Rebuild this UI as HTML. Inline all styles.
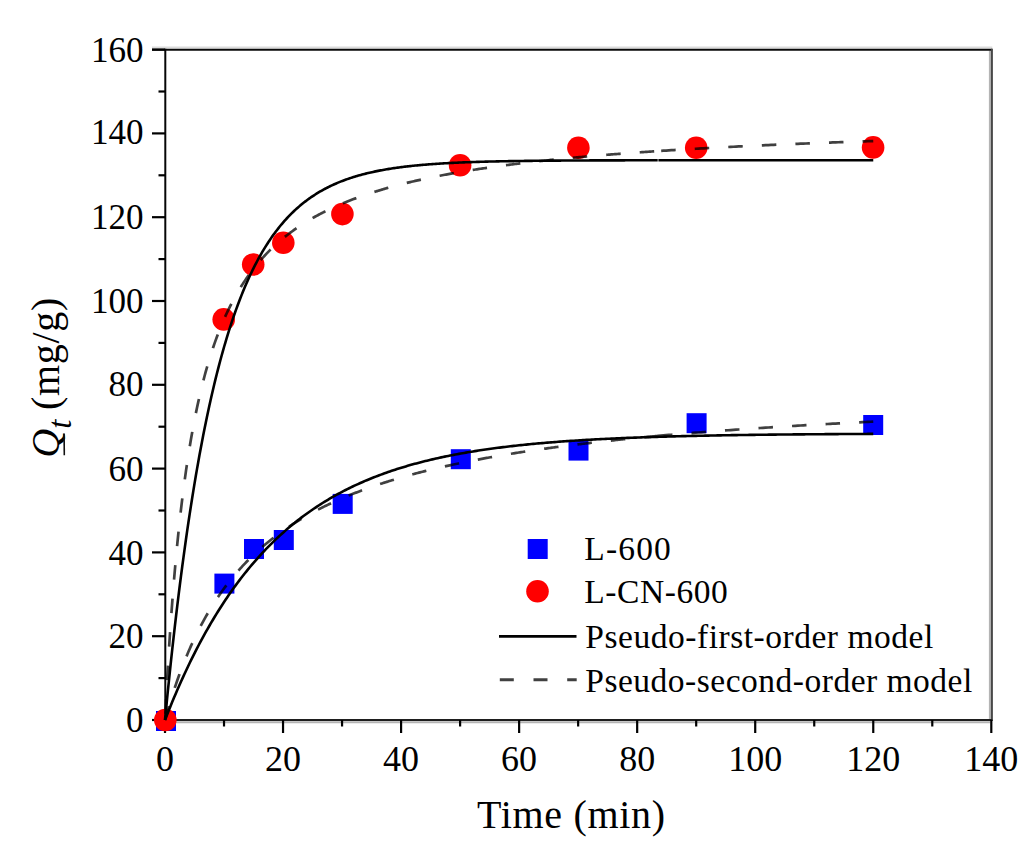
<!DOCTYPE html>
<html><head><meta charset="utf-8"><style>
html,body{margin:0;padding:0;background:#fff;width:1030px;height:849px;overflow:hidden;}
svg{display:block;font-family:"Liberation Serif",serif;}
</style></head><body>
<svg width="1030" height="849" viewBox="0 0 1030 849">
<rect width="1030" height="849" fill="#fff"/>
<g stroke="#000" stroke-width="2.2" fill="none">
<line x1="152.0" y1="47.6" x2="992.3" y2="47.6" stroke="#dcdcdc" stroke-width="2"/>
<line x1="989.9" y1="50.6" x2="989.9" y2="719.0" stroke="#b4b4b4" stroke-width="2"/>
<line x1="166.0" y1="722.2" x2="990.3" y2="722.2" stroke="#b4b4b4" stroke-width="2"/>
<line x1="152.0" y1="49.8" x2="992.3" y2="49.8" stroke="#080808" stroke-width="2"/>
<line x1="165.3" y1="48.8" x2="165.3" y2="721" stroke="#060606" stroke-width="2"/>
<line x1="991.9" y1="48.8" x2="991.9" y2="721" stroke="#484848" stroke-width="2"/>
<line x1="152.0" y1="719.9" x2="992.3" y2="719.9" stroke="#1e1e1e" stroke-width="2"/>
<line x1="152.0" y1="720.00" x2="165.0" y2="720.00"/>
<line x1="158.5" y1="678.10" x2="165.0" y2="678.10"/>
<line x1="152.0" y1="636.20" x2="165.0" y2="636.20"/>
<line x1="158.5" y1="594.30" x2="165.0" y2="594.30"/>
<line x1="152.0" y1="552.40" x2="165.0" y2="552.40"/>
<line x1="158.5" y1="510.50" x2="165.0" y2="510.50"/>
<line x1="152.0" y1="468.60" x2="165.0" y2="468.60"/>
<line x1="158.5" y1="426.70" x2="165.0" y2="426.70"/>
<line x1="152.0" y1="384.80" x2="165.0" y2="384.80"/>
<line x1="158.5" y1="342.90" x2="165.0" y2="342.90"/>
<line x1="152.0" y1="301.00" x2="165.0" y2="301.00"/>
<line x1="158.5" y1="259.10" x2="165.0" y2="259.10"/>
<line x1="152.0" y1="217.20" x2="165.0" y2="217.20"/>
<line x1="158.5" y1="175.30" x2="165.0" y2="175.30"/>
<line x1="152.0" y1="133.40" x2="165.0" y2="133.40"/>
<line x1="158.5" y1="91.50" x2="165.0" y2="91.50"/>
<line x1="152.0" y1="49.60" x2="165.0" y2="49.60"/>
<line x1="165.00" y1="720.0" x2="165.00" y2="733.0"/>
<line x1="224.02" y1="720.0" x2="224.02" y2="726.5"/>
<line x1="283.04" y1="720.0" x2="283.04" y2="733.0"/>
<line x1="342.06" y1="720.0" x2="342.06" y2="726.5"/>
<line x1="401.09" y1="720.0" x2="401.09" y2="733.0"/>
<line x1="460.11" y1="720.0" x2="460.11" y2="726.5"/>
<line x1="519.13" y1="720.0" x2="519.13" y2="733.0"/>
<line x1="578.15" y1="720.0" x2="578.15" y2="726.5"/>
<line x1="637.17" y1="720.0" x2="637.17" y2="733.0"/>
<line x1="696.19" y1="720.0" x2="696.19" y2="726.5"/>
<line x1="755.21" y1="720.0" x2="755.21" y2="733.0"/>
<line x1="814.24" y1="720.0" x2="814.24" y2="726.5"/>
<line x1="873.26" y1="720.0" x2="873.26" y2="733.0"/>
<line x1="932.28" y1="720.0" x2="932.28" y2="726.5"/>
<line x1="991.30" y1="720.0" x2="991.30" y2="733.0"/>
</g>
<rect x="156.0" y="711.0" width="20" height="20" fill="#0000ff"/>
<rect x="214.4" y="573.6" width="20" height="20" fill="#0000ff"/>
<rect x="244.0" y="539.0" width="20" height="20" fill="#0000ff"/>
<rect x="273.8" y="530.0" width="20" height="20" fill="#0000ff"/>
<rect x="332.7" y="493.9" width="20" height="20" fill="#0000ff"/>
<rect x="450.8" y="449.2" width="20" height="20" fill="#0000ff"/>
<rect x="568.5" y="440.6" width="20" height="20" fill="#0000ff"/>
<rect x="686.6" y="413.2" width="20" height="20" fill="#0000ff"/>
<rect x="863.2" y="415.0" width="20" height="20" fill="#0000ff"/>
<circle cx="165.3" cy="720.0" r="11.3" fill="#ff0000"/>
<circle cx="223.7" cy="319.4" r="11.3" fill="#ff0000"/>
<circle cx="253.2" cy="264.5" r="11.3" fill="#ff0000"/>
<circle cx="283.3" cy="242.7" r="11.3" fill="#ff0000"/>
<circle cx="342.4" cy="214.1" r="11.3" fill="#ff0000"/>
<circle cx="460.1" cy="165.2" r="11.3" fill="#ff0000"/>
<circle cx="578.4" cy="147.7" r="11.3" fill="#ff0000"/>
<circle cx="696.2" cy="147.7" r="11.3" fill="#ff0000"/>
<circle cx="873.1" cy="147.4" r="11.3" fill="#ff0000"/>
<g fill="none" stroke-linejoin="round">
<path d="M165.00,720.00 L166.23,707.33 L167.46,694.95 L168.70,682.84 L169.93,671.01 L171.16,659.45 L172.39,648.15 L173.62,637.11 L174.85,626.32 L176.09,615.77 L177.32,605.46 L178.55,595.38 L179.78,585.53 L181.01,575.90 L182.24,566.49 L183.48,557.30 L184.71,548.31 L185.94,539.53 L187.17,530.94 L188.40,522.55 L189.63,514.35 L190.87,506.33 L192.10,498.50 L193.33,490.84 L194.56,483.36 L195.79,476.05 L197.03,468.90 L198.26,461.91 L199.49,455.08 L200.72,448.41 L201.95,441.89 L203.18,435.51 L204.42,429.28 L205.65,423.19 L206.88,417.24 L208.11,411.42 L209.34,405.73 L210.57,400.18 L211.81,394.75 L213.04,389.44 L214.27,384.25 L215.50,379.18 L216.73,374.22 L217.97,369.38 L219.20,364.64 L220.43,360.02 L221.66,355.50 L222.89,351.08 L224.12,346.76 L225.36,342.53 L226.59,338.41 L227.82,334.37 L229.05,330.43 L230.28,326.58 L231.51,322.81 L232.75,319.13 L233.98,315.54 L235.21,312.02 L236.44,308.59 L237.67,305.23 L238.91,301.95 L240.14,298.74 L241.37,295.60 L242.60,292.54 L243.83,289.54 L245.06,286.62 L246.30,283.75 L247.53,280.96 L248.76,278.23 L249.99,275.55 L251.22,272.94 L252.45,270.39 L253.69,267.90 L254.92,265.46 L256.15,263.08 L257.38,260.75 L258.61,258.48 L259.84,256.25 L261.08,254.08 L262.31,251.95 L263.54,249.88 L264.77,247.85 L266.00,245.86 L267.24,243.93 L268.47,242.03 L269.70,240.18 L270.93,238.37 L272.16,236.60 L273.39,234.87 L274.63,233.18 L275.86,231.53 L277.09,229.92 L278.32,228.34 L279.55,226.80 L280.78,225.29 L282.02,223.82 L283.25,222.38 L284.48,220.97 L285.71,219.60 L286.94,218.25 L288.18,216.94 L289.41,215.65 L290.64,214.40 L291.87,213.17 L293.10,211.97 L294.33,210.80 L295.57,209.66 L296.80,208.54 L298.03,207.45 L299.26,206.38 L300.49,205.33 L301.72,204.31 L302.96,203.31 L304.19,202.34 L305.42,201.38 L306.65,200.45 L307.88,199.54 L309.11,198.65 L310.35,197.78 L311.58,196.93 L312.81,196.10 L314.04,195.29 L315.27,194.49 L316.51,193.72 L317.74,192.96 L318.97,192.22 L320.20,191.49 L321.43,190.79 L322.66,190.09 L323.90,189.42 L325.13,188.76 L326.36,188.11 L327.59,187.48 L328.82,186.86 L330.05,186.26 L331.29,185.67 L332.52,185.09 L333.75,184.53 L334.98,183.98 L336.21,183.44 L337.44,182.92 L338.68,182.40 L339.91,181.90 L341.14,181.41 L342.37,180.93 L343.60,180.46 L344.84,180.00 L346.07,179.56 L347.30,179.12 L348.53,178.69 L349.76,178.27 L350.99,177.86 L352.23,177.46 L353.46,177.07 L354.69,176.69 L355.92,176.32 L357.15,175.95 L358.38,175.60 L359.62,175.25 L360.85,174.91 L362.08,174.58 L363.31,174.25 L364.54,173.93 L365.78,173.62 L367.01,173.32 L368.24,173.02 L369.47,172.73 L370.70,172.45 L371.93,172.17 L373.17,171.90 L374.40,171.64 L375.63,171.38 L376.86,171.13 L378.09,170.88 L379.32,170.64 L380.56,170.40 L381.79,170.17 L383.02,169.95 L384.25,169.73 L385.48,169.51 L386.72,169.30 L387.95,169.10 L389.18,168.89 L390.41,168.70 L391.64,168.51 L392.87,168.32 L394.11,168.14 L395.34,167.96 L396.57,167.78 L397.80,167.61 L399.03,167.44 L400.26,167.28 L401.50,167.12 L402.73,166.96 L403.96,166.81 L405.19,166.66 L406.42,166.51 L407.65,166.37 L408.89,166.23 L410.12,166.10 L411.35,165.96 L412.58,165.83 L413.81,165.71 L415.05,165.58 L416.28,165.46 L417.51,165.34 L418.74,165.23 L419.97,165.11 L421.20,165.00 L422.44,164.89 L423.67,164.79 L424.90,164.68 L426.13,164.58 L427.36,164.48 L428.59,164.39 L429.83,164.29 L431.06,164.20 L432.29,164.11 L433.52,164.02 L434.75,163.94 L435.99,163.85 L437.22,163.77 L438.45,163.69 L439.68,163.61 L440.91,163.53 L442.14,163.46 L443.38,163.39 L444.61,163.31 L445.84,163.24 L447.07,163.18 L448.30,163.11 L449.53,163.04 L450.77,162.98 L452.00,162.92 L453.23,162.85 L454.46,162.80 L455.69,162.74 L456.92,162.68 L458.16,162.62 L459.39,162.57 L460.62,162.52 L461.85,162.46 L463.08,162.41 L464.32,162.36 L465.55,162.31 L466.78,162.27 L468.01,162.22 L469.24,162.18 L470.47,162.13 L471.71,162.09 L472.94,162.05 L474.17,162.00 L475.40,161.96 L476.63,161.92 L477.86,161.89 L479.10,161.85 L480.33,161.81 L481.56,161.77 L482.79,161.74 L484.02,161.70 L485.25,161.67 L486.49,161.64 L487.72,161.61 L488.95,161.57 L490.18,161.54 L491.41,161.51 L492.65,161.48 L493.88,161.46 L495.11,161.43 L496.34,161.40 L497.57,161.37 L498.80,161.35 L500.04,161.32 L501.27,161.30 L502.50,161.27 L503.73,161.25 L504.96,161.22 L506.19,161.20 L507.43,161.18 L508.66,161.16 L509.89,161.14 L511.12,161.12 L512.35,161.10 L513.59,161.08 L514.82,161.06 L516.05,161.04 L517.28,161.02 L518.51,161.00 L519.74,160.98 L520.98,160.97 L522.21,160.95 L523.44,160.93 L524.67,160.92 L525.90,160.90 L527.13,160.88 L528.37,160.87 L529.60,160.85 L530.83,160.84 L532.06,160.83 L533.29,160.81 L534.53,160.80 L535.76,160.79 L536.99,160.77 L538.22,160.76 L539.45,160.75 L540.68,160.74 L541.92,160.72 L543.15,160.71 L544.38,160.70 L545.61,160.69 L546.84,160.68 L548.07,160.67 L549.31,160.66 L550.54,160.65 L551.77,160.64 L553.00,160.63 L554.23,160.62 L555.46,160.61 L556.70,160.60 L557.93,160.59 L559.16,160.58 L560.39,160.58 L561.62,160.57 L562.86,160.56 L564.09,160.55 L565.32,160.54 L566.55,160.54 L567.78,160.53 L569.01,160.52 L570.25,160.52 L571.48,160.51 L572.71,160.50 L573.94,160.50 L575.17,160.49 L576.40,160.48 L577.64,160.48 L578.87,160.47 L580.10,160.47 L581.33,160.46 L582.56,160.45 L583.80,160.45 L585.03,160.44 L586.26,160.44 L587.49,160.43 L588.72,160.43 L589.95,160.42 L591.19,160.42 L592.42,160.41 L593.65,160.41 L594.88,160.41 L596.11,160.40 L597.34,160.40 L598.58,160.39 L599.81,160.39 L601.04,160.39 L602.27,160.38 L603.50,160.38 L604.73,160.37 L605.97,160.37 L607.20,160.37 L608.43,160.36 L609.66,160.36 L610.89,160.36 L612.13,160.35 L613.36,160.35 L614.59,160.35 L615.82,160.34 L617.05,160.34 L618.28,160.34 L619.52,160.34 L620.75,160.33 L621.98,160.33 L623.21,160.33 L624.44,160.33 L625.67,160.32 L626.91,160.32 L628.14,160.32 L629.37,160.32 L630.60,160.31 L631.83,160.31 L633.07,160.31 L634.30,160.31 L635.53,160.31 L636.76,160.30 L637.99,160.30 L639.22,160.30 L640.46,160.30 L641.69,160.30 L642.92,160.29 L644.15,160.29 L645.38,160.29 L646.61,160.29 L647.85,160.29 L649.08,160.29 L650.31,160.28 L651.54,160.28 L652.77,160.28 L654.00,160.28 L655.24,160.28 L656.47,160.28 L657.70,160.28" stroke="#000" stroke-width="2.6"/>
<path d="M658.40,160.27 L661.98,160.27 L665.56,160.27 L669.14,160.26 L672.72,160.26 L676.30,160.26 L679.89,160.26 L683.47,160.25 L687.05,160.25 L690.63,160.25 L694.21,160.25 L697.79,160.24 L701.37,160.24 L704.95,160.24 L708.53,160.24 L712.11,160.24 L715.70,160.24 L719.28,160.23 L722.86,160.23 L726.44,160.23 L730.02,160.23 L733.60,160.23 L737.18,160.23 L740.76,160.23 L744.34,160.23 L747.92,160.23 L751.50,160.23 L755.09,160.23 L758.67,160.23 L762.25,160.22 L765.83,160.22 L769.41,160.22 L772.99,160.22 L776.57,160.22 L780.15,160.22 L783.73,160.22 L787.31,160.22 L790.90,160.22 L794.48,160.22 L798.06,160.22 L801.64,160.22 L805.22,160.22 L808.80,160.22 L812.38,160.22 L815.96,160.22 L819.54,160.22 L823.12,160.22 L826.70,160.22 L830.29,160.22 L833.87,160.22 L837.45,160.22 L841.03,160.22 L844.61,160.22 L848.19,160.22 L851.77,160.22 L855.35,160.22 L858.93,160.22 L862.51,160.22 L866.10,160.22 L869.68,160.22 L873.26,160.22" stroke="#000" stroke-width="2.6"/>
<path d="M165.00,720.00 L166.77,715.48 L168.54,711.03 L170.31,706.65 L172.08,702.34 L173.85,698.10 L175.62,693.92 L177.39,689.81 L179.17,685.77 L180.94,681.79 L182.71,677.87 L184.48,674.01 L186.25,670.22 L188.02,666.48 L189.79,662.81 L191.56,659.19 L193.33,655.63 L195.10,652.12 L196.87,648.67 L198.64,645.27 L200.41,641.93 L202.18,638.64 L203.95,635.41 L205.72,632.22 L207.50,629.08 L209.27,626.00 L211.04,622.96 L212.81,619.97 L214.58,617.02 L216.35,614.13 L218.12,611.28 L219.89,608.47 L221.66,605.71 L223.43,602.99 L225.20,600.32 L226.97,597.68 L228.74,595.09 L230.51,592.54 L232.28,590.03 L234.06,587.56 L235.83,585.13 L237.60,582.74 L239.37,580.38 L241.14,578.06 L242.91,575.78 L244.68,573.53 L246.45,571.32 L248.22,569.15 L249.99,567.01 L251.76,564.90 L253.53,562.83 L255.30,560.78 L257.07,558.77 L258.84,556.80 L260.61,554.85 L262.39,552.93 L264.16,551.05 L265.93,549.19 L267.70,547.37 L269.47,545.57 L271.24,543.80 L273.01,542.06 L274.78,540.34 L276.55,538.66 L278.32,537.00 L280.09,535.36 L281.86,533.75 L283.63,532.17 L285.40,530.61 L287.17,529.08 L288.94,527.57 L290.72,526.09 L292.49,524.62 L294.26,523.19 L296.03,521.77 L297.80,520.37 L299.57,519.00 L301.34,517.65 L303.11,516.32 L304.88,515.02 L306.65,513.73 L308.42,512.46 L310.19,511.21 L311.96,509.99 L313.73,508.78 L315.50,507.59 L317.28,506.42 L319.05,505.27 L320.82,504.13 L322.59,503.02 L324.36,501.92 L326.13,500.84 L327.90,499.78 L329.67,498.73 L331.44,497.70 L333.21,496.68 L334.98,495.69 L336.75,494.70 L338.52,493.74 L340.29,492.78 L342.06,491.85 L343.83,490.93 L345.61,490.02 L347.38,489.13 L349.15,488.25 L350.92,487.38 L352.69,486.53 L354.46,485.69 L356.23,484.87 L358.00,484.06 L359.77,483.26 L361.54,482.47 L363.31,481.70 L365.08,480.93 L366.85,480.18 L368.62,479.45 L370.39,478.72 L372.17,478.01 L373.94,477.30 L375.71,476.61 L377.48,475.93 L379.25,475.26 L381.02,474.60 L382.79,473.95 L384.56,473.31 L386.33,472.68 L388.10,472.06 L389.87,471.45 L391.64,470.85 L393.41,470.26 L395.18,469.68 L396.95,469.10 L398.72,468.54 L400.50,467.99 L402.27,467.44 L404.04,466.90 L405.81,466.38 L407.58,465.86 L409.35,465.34 L411.12,464.84 L412.89,464.34 L414.66,463.86 L416.43,463.38 L418.20,462.90 L419.97,462.44 L421.74,461.98 L423.51,461.53 L425.28,461.09 L427.06,460.65 L428.83,460.22 L430.60,459.80 L432.37,459.38 L434.14,458.97 L435.91,458.57 L437.68,458.17 L439.45,457.78 L441.22,457.39 L442.99,457.02 L444.76,456.64 L446.53,456.28 L448.30,455.92 L450.07,455.56 L451.84,455.21 L453.61,454.87 L455.39,454.53 L457.16,454.20 L458.93,453.87 L460.70,453.55 L462.47,453.23 L464.24,452.91 L466.01,452.61 L467.78,452.30 L469.55,452.01 L471.32,451.71 L473.09,451.42 L474.86,451.14 L476.63,450.86 L478.40,450.58 L480.17,450.31 L481.95,450.05 L483.72,449.78 L485.49,449.53 L487.26,449.27 L489.03,449.02 L490.80,448.77 L492.57,448.53 L494.34,448.29 L496.11,448.06 L497.88,447.83 L499.65,447.60 L501.42,447.38 L503.19,447.16 L504.96,446.94 L506.73,446.73 L508.50,446.52 L510.28,446.31 L512.05,446.10 L513.82,445.90 L515.59,445.71 L517.36,445.51 L519.13,445.32 L520.90,445.13 L522.67,444.95 L524.44,444.77 L526.21,444.59 L527.98,444.41 L529.75,444.24 L531.52,444.07 L533.29,443.90 L535.06,443.73 L536.84,443.57 L538.61,443.41 L540.38,443.25 L542.15,443.10 L543.92,442.94 L545.69,442.79 L547.46,442.65 L549.23,442.50 L551.00,442.36 L552.77,442.21 L554.54,442.08 L556.31,441.94 L558.08,441.80 L559.85,441.67 L561.62,441.54 L563.39,441.41 L565.17,441.29 L566.94,441.16 L568.71,441.04 L570.48,440.92 L572.25,440.80 L574.02,440.68 L575.79,440.57 L577.56,440.46 L579.33,440.35 L581.10,440.24 L582.87,440.13 L584.64,440.02 L586.41,439.92 L588.18,439.81 L589.95,439.71 L591.72,439.61 L593.50,439.52 L595.27,439.42 L597.04,439.32 L598.81,439.23 L600.58,439.14 L602.35,439.05 L604.12,438.96 L605.89,438.87 L607.66,438.79 L609.43,438.70 L611.20,438.62 L612.97,438.54 L614.74,438.45 L616.51,438.37 L618.28,438.30 L620.06,438.22 L621.83,438.14 L623.60,438.07 L625.37,437.99 L627.14,437.92 L628.91,437.85 L630.68,437.78 L632.45,437.71 L634.22,437.64 L635.99,437.58 L637.76,437.51 L639.53,437.45 L641.30,437.38 L643.07,437.32 L644.84,437.26 L646.61,437.20 L648.39,437.14 L650.16,437.08 L651.93,437.02 L653.70,436.96 L655.47,436.91 L657.24,436.85 L659.01,436.80 L660.78,436.74 L662.55,436.69 L664.32,436.64 L666.09,436.59 L667.86,436.54 L669.63,436.49 L671.40,436.44 L673.17,436.39 L674.95,436.35 L676.72,436.30 L678.49,436.25 L680.26,436.21 L682.03,436.16 L683.80,436.12 L685.57,436.08 L687.34,436.04 L689.11,435.99 L690.88,435.95 L692.65,435.91 L694.42,435.87 L696.19,435.83 L697.96,435.80 L699.73,435.76 L701.50,435.72 L703.28,435.68 L705.05,435.65 L706.82,435.61 L708.59,435.58 L710.36,435.54 L712.13,435.51 L713.90,435.48 L715.67,435.44 L717.44,435.41 L719.21,435.38 L720.98,435.35 L722.75,435.32 L724.52,435.29 L726.29,435.26 L728.06,435.23 L729.84,435.20 L731.61,435.17 L733.38,435.14 L735.15,435.12 L736.92,435.09 L738.69,435.06 L740.46,435.04 L742.23,435.01 L744.00,434.99 L745.77,434.96 L747.54,434.94 L749.31,434.91 L751.08,434.89 L752.85,434.87 L754.62,434.84 L756.39,434.82 L758.17,434.80 L759.94,434.78 L761.71,434.75 L763.48,434.73 L765.25,434.71 L767.02,434.69 L768.79,434.67 L770.56,434.65 L772.33,434.63 L774.10,434.61 L775.87,434.59 L777.64,434.57 L779.41,434.56 L781.18,434.54 L782.95,434.52 L784.72,434.50 L786.50,434.48 L788.27,434.47 L790.04,434.45 L791.81,434.43 L793.58,434.42 L795.35,434.40 L797.12,434.39 L798.89,434.37 L800.66,434.36 L802.43,434.34 L804.20,434.33 L805.97,434.31 L807.74,434.30 L809.51,434.28 L811.28,434.27 L813.06,434.26 L814.83,434.24 L816.60,434.23 L818.37,434.22 L820.14,434.20 L821.91,434.19 L823.68,434.18 L825.45,434.17 L827.22,434.15 L828.99,434.14 L830.76,434.13 L832.53,434.12 L834.30,434.11 L836.07,434.10 L837.84,434.09 L839.61,434.07 L841.39,434.06 L843.16,434.05 L844.93,434.04 L846.70,434.03 L848.47,434.02 L850.24,434.01 L852.01,434.00 L853.78,433.99 L855.55,433.99 L857.32,433.98 L859.09,433.97 L860.86,433.96 L862.63,433.95 L864.40,433.94 L866.17,433.93 L867.95,433.92 L869.72,433.92 L871.49,433.91 L873.26,433.90" stroke="#000" stroke-width="2.6"/>
<path d="M165.00,720.00 L166.23,696.07 L167.47,673.96 L168.70,653.48 L169.93,634.45 L171.16,616.72 L172.40,600.17 L173.63,584.67 L174.86,570.14 L176.09,556.49 L177.32,543.63 L178.56,531.50 L179.79,520.05 L181.02,509.21 L182.25,498.93 L183.49,489.18 L184.72,479.92 L185.95,471.10 L187.19,462.70 L188.42,454.70 L189.65,447.05 L190.88,439.74 L192.12,432.75 L193.35,426.05 L194.58,419.63 L195.81,413.48 L197.05,407.57 L198.28,401.88 L199.51,396.42 L200.74,391.16 L201.97,386.10 L203.21,381.22 L204.44,376.51 L205.67,371.97 L206.91,367.58 L208.14,363.34 L209.37,359.25 L210.60,355.28 L211.84,351.45 L213.07,347.73 L214.30,344.13 L215.53,340.65 L216.76,337.26 L218.00,333.98 L219.23,330.79 L220.46,327.70 L221.69,324.69 L222.93,321.77 L224.16,318.93 L225.39,316.17 L226.62,313.48 L227.86,310.86 L229.09,308.31 L230.32,305.83 L231.56,303.41 L232.79,301.05 L234.02,298.75 L235.25,296.51 L236.49,294.32 L237.72,292.19 L238.95,290.10 L240.18,288.07 L241.42,286.08 L242.65,284.14 L243.88,282.24 L245.11,280.38 L246.34,278.57 L247.58,276.79 L248.81,275.05 L250.04,273.35 L251.27,271.69 L252.51,270.06 L253.74,268.47 L254.97,266.91 L256.20,265.38 L257.44,263.88 L258.67,262.41 L259.90,260.97 L261.13,259.56 L262.37,258.17 L263.60,256.81 L264.83,255.48 L266.06,254.17 L267.30,252.89 L268.53,251.63 L269.76,250.40 L271.00,249.18 L272.23,247.99 L273.46,246.82 L274.69,245.67 L275.93,244.54 L277.16,243.43 L278.39,242.34 L279.62,241.27 L280.86,240.21 L282.09,239.17 L283.32,238.16 L284.55,237.15 L285.78,236.17 L287.02,235.20 L288.25,234.24 L289.48,233.30 L290.72,232.38 L291.95,231.47 L293.18,230.57 L294.41,229.69 L295.64,228.82 L296.88,227.97 L298.11,227.13 L299.34,226.30 L300.58,225.48 L301.81,224.67 L303.04,223.88 L304.27,223.10 L305.50,222.33 L306.74,221.57 L307.97,220.82 L309.20,220.08 L310.43,219.36 L311.67,218.64 L312.90,217.93 L314.13,217.23 L315.37,216.55 L316.60,215.87 L317.83,215.20 L319.06,214.54 L320.30,213.89 L321.53,213.24 L322.76,212.61 L323.99,211.98 L325.23,211.36 L326.46,210.75 L327.69,210.15 L328.92,209.56 L330.16,208.97 L331.39,208.39 L332.62,207.82 L333.85,207.25 L335.08,206.69 L336.32,206.14 L337.55,205.60 L338.78,205.06 L340.01,204.53 L341.25,204.00 L342.48,203.48 L343.71,202.97 L344.94,202.46 L346.18,201.96 L347.41,201.46 L348.64,200.97 L349.88,200.49 L351.11,200.01 L352.34,199.54 L353.57,199.07 L354.81,198.61 L356.04,198.15 L357.27,197.70 L358.50,197.25 L359.74,196.81 L360.97,196.37 L362.20,195.94 L363.43,195.51 L364.67,195.09 L365.90,194.67 L367.13,194.25 L368.36,193.84 L369.60,193.44 L370.83,193.03 L372.06,192.64 L373.29,192.24 L374.52,191.85 L375.76,191.47 L376.99,191.09 L378.22,190.71 L379.46,190.34 L380.69,189.97 L381.92,189.60 L383.15,189.24 L384.38,188.88 L385.62,188.52 L386.85,188.17 L388.08,187.82 L389.32,187.48 L390.55,187.14 L391.78,186.80 L393.01,186.46 L394.25,186.13 L395.48,185.80 L396.71,185.47 L397.94,185.15 L399.17,184.83 L400.41,184.52 L401.64,184.20 L402.87,183.89 L404.11,183.58 L405.34,183.28 L406.57,182.97 L407.80,182.67 L409.03,182.38 L410.27,182.08 L411.50,181.79 L412.73,181.50 L413.97,181.21 L415.20,180.93 L416.43,180.65 L417.66,180.37 L418.89,180.09 L420.13,179.82 L421.36,179.55 L422.59,179.28 L423.83,179.01 L425.06,178.74 L426.29,178.48 L427.52,178.22 L428.75,177.96 L429.99,177.71 L431.22,177.45 L432.45,177.20 L433.69,176.95 L434.92,176.70 L436.15,176.45 L437.38,176.21 L438.62,175.97 L439.85,175.73 L441.08,175.49 L442.31,175.25 L443.55,175.02 L444.78,174.79 L446.01,174.56 L447.24,174.33 L448.47,174.10 L449.71,173.88 L450.94,173.65 L452.17,173.43 L453.40,173.21 L454.64,172.99 L455.87,172.78 L457.10,172.56 L458.33,172.35 L459.57,172.14 L460.80,171.93 L462.03,171.72 L463.26,171.51 L464.50,171.31 L465.73,171.10 L466.96,170.90 L468.19,170.70 L469.43,170.50 L470.66,170.30 L471.89,170.11 L473.12,169.91 L474.36,169.72 L475.59,169.53 L476.82,169.33 L478.06,169.14 L479.29,168.96 L480.52,168.77 L481.75,168.58 L482.99,168.40 L484.22,168.22 L485.45,168.04 L486.68,167.86 L487.92,167.68 L489.15,167.50 L490.38,167.32 L491.61,167.15 L492.85,166.97 L494.08,166.80 L495.31,166.63 L496.54,166.46 L497.78,166.29 L499.01,166.12 L500.24,165.95 L501.47,165.79 L502.71,165.62 L503.94,165.46 L505.17,165.30 L506.40,165.14 L507.63,164.98 L508.87,164.82 L510.10,164.66 L511.33,164.50 L512.57,164.34 L513.80,164.19 L515.03,164.03 L516.26,163.88 L517.50,163.73 L518.73,163.58 L519.96,163.43 L521.19,163.28 L522.42,163.13 L523.66,162.98 L524.89,162.84 L526.12,162.69 L527.36,162.54 L528.59,162.40 L529.82,162.26 L531.05,162.12 L532.29,161.98 L533.52,161.83 L534.75,161.70 L535.98,161.56 L537.21,161.42 L538.45,161.28 L539.68,161.15 L540.91,161.01 L542.14,160.88 L543.38,160.74 L544.61,160.61 L545.84,160.48 L547.08,160.35 L548.31,160.22 L549.54,160.09 L550.77,159.96 L552.00,159.83 L553.24,159.70 L554.47,159.58 L555.70,159.45 L556.93,159.33 L558.17,159.20 L559.40,159.08 L560.63,158.95 L561.87,158.83 L563.10,158.71 L564.33,158.59 L565.56,158.47 L566.79,158.35 L568.03,158.23 L569.26,158.11 L570.49,158.00 L571.73,157.88 L572.96,157.76 L574.19,157.65 L575.42,157.53 L576.65,157.42 L577.89,157.31 L579.12,157.19 L580.35,157.08 L581.59,156.97 L582.82,156.86 L584.05,156.75 L585.28,156.64 L586.51,156.53 L587.75,156.42 L588.98,156.31 L590.21,156.20 L591.44,156.10 L592.68,155.99 L593.91,155.89 L595.14,155.78 L596.38,155.68 L597.61,155.57 L598.84,155.47 L600.07,155.36 L601.30,155.26 L602.54,155.16 L603.77,155.06 L605.00,154.96 L606.24,154.86 L607.47,154.76 L608.70,154.66 L609.93,154.56 L611.16,154.46 L612.40,154.36 L613.63,154.27 L614.86,154.17 L616.10,154.07 L617.33,153.98 L618.56,153.88 L619.79,153.79 L621.02,153.69 L622.26,153.60 L623.49,153.51 L624.72,153.42 L625.96,153.32 L627.19,153.23 L628.42,153.14 L629.65,153.05 L630.88,152.96 L632.12,152.87 L633.35,152.78 L634.58,152.69 L635.82,152.60 L637.05,152.51 L638.28,152.42 L639.51,152.34 L640.75,152.25 L641.98,152.16 L643.21,152.08 L644.44,151.99 L645.67,151.91 L646.91,151.82 L648.14,151.74 L649.37,151.65 L650.61,151.57 L651.84,151.49 L653.07,151.40 L654.30,151.32 L655.53,151.24 L656.77,151.16 L658.00,151.07" stroke="#000" stroke-opacity="0.75" stroke-width="2.7" stroke-dasharray="14.5 19.1" stroke-dashoffset="27.3"/>
<path d="M658.00,151.07 L660.69,150.90 L663.38,150.72 L666.07,150.55 L668.76,150.38 L671.45,150.21 L674.14,150.04 L676.84,149.88 L679.53,149.71 L682.22,149.55 L684.91,149.39 L687.60,149.23 L690.29,149.07 L692.98,148.92 L695.67,148.76 L698.36,148.61 L701.05,148.45 L703.74,148.30 L706.43,148.15 L709.12,148.01 L711.81,147.86 L714.50,147.72 L717.20,147.57 L719.89,147.43 L722.58,147.29 L725.27,147.15 L727.96,147.01 L730.65,146.87 L733.34,146.74 L736.03,146.60 L738.72,146.47 L741.41,146.34 L744.10,146.21 L746.79,146.08 L749.48,145.95 L752.17,145.82 L754.87,145.69 L757.56,145.57 L760.25,145.44 L762.94,145.32 L765.63,145.20 L768.32,145.07 L771.01,144.95 L773.70,144.83 L776.39,144.72 L779.08,144.60 L781.77,144.48 L784.46,144.37 L787.15,144.25 L789.84,144.14 L792.54,144.03 L795.23,143.92 L797.92,143.80 L800.61,143.69 L803.30,143.59 L805.99,143.48 L808.68,143.37 L811.37,143.26 L814.06,143.16 L816.75,143.05 L819.44,142.95 L822.13,142.85 L824.82,142.74 L827.51,142.64 L830.21,142.54 L832.90,142.44 L835.59,142.34 L838.28,142.25 L840.97,142.15 L843.66,142.05 L846.35,141.95 L849.04,141.86 L851.73,141.76 L854.42,141.67 L857.11,141.58 L859.80,141.48 L862.49,141.39 L865.18,141.30 L867.88,141.21 L870.57,141.12 L873.26,141.03" stroke="#000" stroke-opacity="0.75" stroke-width="2.7" stroke-dasharray="14.5 19.1" stroke-dashoffset="30.4"/>
<path d="M165.00,720.00 L166.23,715.56 L167.47,711.23 L168.70,707.02 L169.93,702.91 L171.16,698.90 L172.40,695.00 L173.63,691.19 L174.86,687.47 L176.09,683.84 L177.32,680.29 L178.56,676.83 L179.79,673.45 L181.02,670.14 L182.25,666.91 L183.49,663.75 L184.72,660.66 L185.95,657.63 L187.19,654.68 L188.42,651.78 L189.65,648.95 L190.88,646.17 L192.12,643.45 L193.35,640.79 L194.58,638.18 L195.81,635.63 L197.05,633.12 L198.28,630.66 L199.51,628.26 L200.74,625.89 L201.97,623.58 L203.21,621.30 L204.44,619.07 L205.67,616.88 L206.91,614.73 L208.14,612.62 L209.37,610.55 L210.60,608.51 L211.84,606.51 L213.07,604.55 L214.30,602.62 L215.53,600.72 L216.76,598.86 L218.00,597.03 L219.23,595.22 L220.46,593.45 L221.69,591.71 L222.93,590.00 L224.16,588.31 L225.39,586.65 L226.62,585.02 L227.86,583.41 L229.09,581.83 L230.32,580.27 L231.56,578.74 L232.79,577.23 L234.02,575.75 L235.25,574.29 L236.49,572.84 L237.72,571.42 L238.95,570.03 L240.18,568.65 L241.42,567.29 L242.65,565.95 L243.88,564.63 L245.11,563.33 L246.34,562.05 L247.58,560.79 L248.81,559.54 L250.04,558.31 L251.27,557.10 L252.51,555.91 L253.74,554.73 L254.97,553.57 L256.20,552.42 L257.44,551.29 L258.67,550.17 L259.90,549.07 L261.13,547.98 L262.37,546.91 L263.60,545.85 L264.83,544.80 L266.06,543.77 L267.30,542.75 L268.53,541.74 L269.76,540.75 L271.00,539.76 L272.23,538.79 L273.46,537.84 L274.69,536.89 L275.93,535.96 L277.16,535.03 L278.39,534.12 L279.62,533.22 L280.86,532.33 L282.09,531.45 L283.32,530.58 L284.55,529.72 L285.78,528.87 L287.02,528.03 L288.25,527.20 L289.48,526.37 L290.72,525.56 L291.95,524.76 L293.18,523.97 L294.41,523.18 L295.64,522.40 L296.88,521.64 L298.11,520.88 L299.34,520.13 L300.58,519.38 L301.81,518.65 L303.04,517.92 L304.27,517.20 L305.50,516.49 L306.74,515.78 L307.97,515.09 L309.20,514.40 L310.43,513.72 L311.67,513.04 L312.90,512.37 L314.13,511.71 L315.37,511.05 L316.60,510.41 L317.83,509.76 L319.06,509.13 L320.30,508.50 L321.53,507.88 L322.76,507.26 L323.99,506.65 L325.23,506.04 L326.46,505.45 L327.69,504.85 L328.92,504.27 L330.16,503.68 L331.39,503.11 L332.62,502.54 L333.85,501.97 L335.08,501.41 L336.32,500.86 L337.55,500.31 L338.78,499.76 L340.01,499.22 L341.25,498.69 L342.48,498.16 L343.71,497.63 L344.94,497.11 L346.18,496.60 L347.41,496.09 L348.64,495.58 L349.88,495.08 L351.11,494.58 L352.34,494.09 L353.57,493.60 L354.81,493.11 L356.04,492.63 L357.27,492.16 L358.50,491.69 L359.74,491.22 L360.97,490.75 L362.20,490.30 L363.43,489.84 L364.67,489.39 L365.90,488.94 L367.13,488.49 L368.36,488.05 L369.60,487.62 L370.83,487.18 L372.06,486.75 L373.29,486.33 L374.52,485.90 L375.76,485.48 L376.99,485.07 L378.22,484.65 L379.46,484.24 L380.69,483.84 L381.92,483.44 L383.15,483.04 L384.38,482.64 L385.62,482.25 L386.85,481.85 L388.08,481.47 L389.32,481.08 L390.55,480.70 L391.78,480.32 L393.01,479.95 L394.25,479.57 L395.48,479.21 L396.71,478.84 L397.94,478.47 L399.17,478.11 L400.41,477.75 L401.64,477.40 L402.87,477.04 L404.11,476.69 L405.34,476.35 L406.57,476.00 L407.80,475.66 L409.03,475.32 L410.27,474.98 L411.50,474.64 L412.73,474.31 L413.97,473.98 L415.20,473.65 L416.43,473.32 L417.66,473.00 L418.89,472.68 L420.13,472.36 L421.36,472.04 L422.59,471.73 L423.83,471.42 L425.06,471.11 L426.29,470.80 L427.52,470.49 L428.75,470.19 L429.99,469.89 L431.22,469.59 L432.45,469.29 L433.69,468.99 L434.92,468.70 L436.15,468.41 L437.38,468.12 L438.62,467.83 L439.85,467.55 L441.08,467.26 L442.31,466.98 L443.55,466.70 L444.78,466.42 L446.01,466.14 L447.24,465.87 L448.47,465.60 L449.71,465.33 L450.94,465.06 L452.17,464.79 L453.40,464.52 L454.64,464.26 L455.87,464.00 L457.10,463.74 L458.33,463.48 L459.57,463.22 L460.80,462.97 L462.03,462.71 L463.26,462.46 L464.50,462.21 L465.73,461.96 L466.96,461.71 L468.19,461.47 L469.43,461.22 L470.66,460.98 L471.89,460.74 L473.12,460.50 L474.36,460.26 L475.59,460.02 L476.82,459.78 L478.06,459.55 L479.29,459.32 L480.52,459.09 L481.75,458.86 L482.99,458.63 L484.22,458.40 L485.45,458.17 L486.68,457.95 L487.92,457.73 L489.15,457.50 L490.38,457.28 L491.61,457.06 L492.85,456.84 L494.08,456.63 L495.31,456.41 L496.54,456.20 L497.78,455.99 L499.01,455.77 L500.24,455.56 L501.47,455.35 L502.71,455.15 L503.94,454.94 L505.17,454.73 L506.40,454.53 L507.63,454.32 L508.87,454.12 L510.10,453.92 L511.33,453.72 L512.57,453.52 L513.80,453.32 L515.03,453.13 L516.26,452.93 L517.50,452.74 L518.73,452.54 L519.96,452.35 L521.19,452.16 L522.42,451.97 L523.66,451.78 L524.89,451.59 L526.12,451.40 L527.36,451.22 L528.59,451.03 L529.82,450.85 L531.05,450.67 L532.29,450.48 L533.52,450.30 L534.75,450.12 L535.98,449.94 L537.21,449.76 L538.45,449.59 L539.68,449.41 L540.91,449.23 L542.14,449.06 L543.38,448.89 L544.61,448.71 L545.84,448.54 L547.08,448.37 L548.31,448.20 L549.54,448.03 L550.77,447.86 L552.00,447.70 L553.24,447.53 L554.47,447.36 L555.70,447.20 L556.93,447.03 L558.17,446.87 L559.40,446.71 L560.63,446.55 L561.87,446.39 L563.10,446.23 L564.33,446.07 L565.56,445.91 L566.79,445.75 L568.03,445.59 L569.26,445.44 L570.49,445.28 L571.73,445.13 L572.96,444.97 L574.19,444.82 L575.42,444.67 L576.65,444.52 L577.89,444.37 L579.12,444.22 L580.35,444.07 L581.59,443.92 L582.82,443.77 L584.05,443.62 L585.28,443.48 L586.51,443.33 L587.75,443.19 L588.98,443.04 L590.21,442.90 L591.44,442.75 L592.68,442.61 L593.91,442.47 L595.14,442.33 L596.38,442.19 L597.61,442.05 L598.84,441.91 L600.07,441.77 L601.30,441.63 L602.54,441.50 L603.77,441.36 L605.00,441.23 L606.24,441.09 L607.47,440.96 L608.70,440.82 L609.93,440.69 L611.16,440.56 L612.40,440.42 L613.63,440.29 L614.86,440.16 L616.10,440.03 L617.33,439.90 L618.56,439.77 L619.79,439.64 L621.02,439.52 L622.26,439.39 L623.49,439.26 L624.72,439.14 L625.96,439.01 L627.19,438.88 L628.42,438.76 L629.65,438.64 L630.88,438.51 L632.12,438.39 L633.35,438.27 L634.58,438.14 L635.82,438.02 L637.05,437.90 L638.28,437.78 L639.51,437.66 L640.75,437.54 L641.98,437.42 L643.21,437.31 L644.44,437.19 L645.67,437.07 L646.91,436.96 L648.14,436.84 L649.37,436.72 L650.61,436.61 L651.84,436.49 L653.07,436.38 L654.30,436.27 L655.53,436.15 L656.77,436.04 L658.00,435.93" stroke="#000" stroke-opacity="0.75" stroke-width="2.7" stroke-dasharray="14.5 19.1"/>
<path d="M658.00,435.93 L660.69,435.68 L663.38,435.44 L666.07,435.20 L668.76,434.97 L671.45,434.73 L674.14,434.50 L676.84,434.27 L679.53,434.04 L682.22,433.81 L684.91,433.59 L687.60,433.37 L690.29,433.14 L692.98,432.93 L695.67,432.71 L698.36,432.49 L701.05,432.28 L703.74,432.07 L706.43,431.86 L709.12,431.65 L711.81,431.45 L714.50,431.24 L717.20,431.04 L719.89,430.84 L722.58,430.64 L725.27,430.44 L727.96,430.25 L730.65,430.05 L733.34,429.86 L736.03,429.67 L738.72,429.48 L741.41,429.29 L744.10,429.10 L746.79,428.92 L749.48,428.73 L752.17,428.55 L754.87,428.37 L757.56,428.19 L760.25,428.01 L762.94,427.84 L765.63,427.66 L768.32,427.49 L771.01,427.31 L773.70,427.14 L776.39,426.97 L779.08,426.81 L781.77,426.64 L784.46,426.47 L787.15,426.31 L789.84,426.14 L792.54,425.98 L795.23,425.82 L797.92,425.66 L800.61,425.50 L803.30,425.34 L805.99,425.19 L808.68,425.03 L811.37,424.88 L814.06,424.72 L816.75,424.57 L819.44,424.42 L822.13,424.27 L824.82,424.12 L827.51,423.98 L830.21,423.83 L832.90,423.68 L835.59,423.54 L838.28,423.40 L840.97,423.25 L843.66,423.11 L846.35,422.97 L849.04,422.83 L851.73,422.69 L854.42,422.56 L857.11,422.42 L859.80,422.28 L862.49,422.15 L865.18,422.01 L867.88,421.88 L870.57,421.75 L873.26,421.62" stroke="#000" stroke-opacity="0.75" stroke-width="2.7" stroke-dasharray="14.5 19.1"/>
</g>
<g font-family="Liberation Serif" font-size="36" fill="#000">
<text transform="translate(143.6,731.95) scale(0.975,1)" text-anchor="end">0</text>
<text transform="translate(143.6,647.90) scale(0.975,1)" text-anchor="end">20</text>
<text transform="translate(143.6,564.70) scale(0.975,1)" text-anchor="end">40</text>
<text transform="translate(143.6,480.50) scale(0.975,1)" text-anchor="end">60</text>
<text transform="translate(143.6,395.90) scale(0.975,1)" text-anchor="end">80</text>
<text transform="translate(143.6,313.05) scale(0.975,1)" text-anchor="end">100</text>
<text transform="translate(143.6,228.70) scale(0.975,1)" text-anchor="end">120</text>
<text transform="translate(143.6,144.05) scale(0.975,1)" text-anchor="end">140</text>
<text transform="translate(143.6,62.00) scale(0.975,1)" text-anchor="end">160</text>
<text x="165.0" y="771.4" text-anchor="middle">0</text>
<text x="283.0" y="771.4" text-anchor="middle">20</text>
<text x="401.1" y="771.4" text-anchor="middle">40</text>
<text x="519.1" y="771.4" text-anchor="middle">60</text>
<text x="637.2" y="771.4" text-anchor="middle">80</text>
<text x="755.2" y="771.4" text-anchor="middle">100</text>
<text x="873.3" y="771.4" text-anchor="middle">120</text>
<text x="991.3" y="771.4" text-anchor="middle">140</text>
</g>
<text x="477" y="828" font-family="Liberation Serif" font-size="40" textLength="188" lengthAdjust="spacing">Time (min)</text>
<g transform="translate(58.7,459) rotate(-90)" font-family="Liberation Serif" font-size="40"><text x="1.3" y="0" font-style="italic">Q</text><text x="30.3" y="12.4" font-style="italic" font-size="33">t</text><text x="49" y="0" textLength="112.4" lengthAdjust="spacing">(mg/g)</text></g>
<path d="M64.3,455.3 L64.1,433.5" stroke="#111" stroke-width="1.6" fill="none"/>
<rect x="527.7" y="539" width="20" height="20" fill="#0000ff"/>
<circle cx="537.5" cy="591.3" r="11.3" fill="#ff0000"/>
<line x1="499" y1="636.4" x2="576.5" y2="636.4" stroke="#000" stroke-width="2.8"/>
<line x1="499.8" y1="679.8" x2="576.7" y2="679.8" stroke="#000" stroke-opacity="0.75" stroke-width="3" stroke-dasharray="14 19.7"/>
<g font-family="Liberation Serif" font-size="33.5" fill="#000">
<text x="584.3" y="559.6" textLength="86.5" lengthAdjust="spacing">L-600</text>
<text x="584.3" y="602.8" textLength="143.5" lengthAdjust="spacing">L-CN-600</text>
<text x="585.3" y="648" textLength="348" lengthAdjust="spacing">Pseudo-first-order model</text>
<text x="585.3" y="691.5" textLength="387" lengthAdjust="spacing">Pseudo-second-order model</text>
</g>
</svg>
</body></html>
